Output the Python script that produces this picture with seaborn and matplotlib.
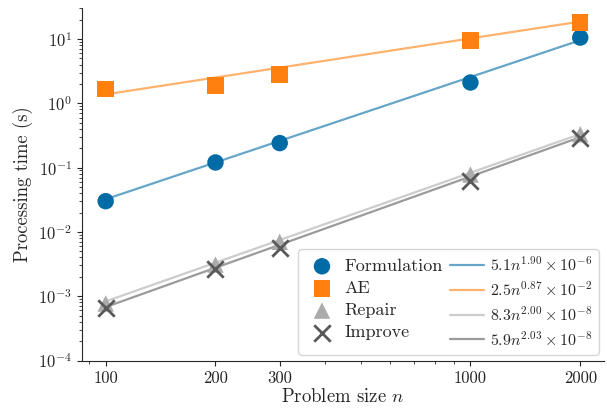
import numpy as np
import pandas as pd
import matplotlib
matplotlib.use("Agg")
import matplotlib.pyplot as plt
import matplotlib.ticker as mticker
import seaborn as sns

sizes = [100, 200, 300, 1000, 2000]
formulation = [0.030, 0.12, 0.24, 2.1, 10.5]
ae = [1.66, 1.9, 2.8, 9.4, 18.0]
repair = [0.00077, 0.0031, 0.0070, 0.078, 0.33]
improve = [0.00066, 0.0026, 0.0056, 0.061, 0.29]

methods = ["Formulation", "AE", "Repair", "Improve"]
# power-law fits from the legend: coef * n^expo * 10^scale
fit_coef = [5.1, 2.5, 8.3, 5.9]
fit_expo = [1.90, 0.87, 2.00, 2.03]
fit_scale = [-6, -2, -8, -8]

colors = ["#006BA4", "#FF800E", "#ABABAB", "#595959"]
markers = ["o", "s", "^", "X"]


def build_frames():
    times = [formulation, ae, repair, improve]
    rows, fits = [], []
    for m, t, c, e, s in zip(methods, times, fit_coef, fit_expo, fit_scale):
        for n, v in zip(sizes, t):
            rows.append({"n": n, "time": v, "method": m})
            fits.append({"n": n, "time": c * n ** e * 10.0 ** s,
                         "fit": rf"${c}n^{{{e:.2f}}}\times10^{{{s}}}$"})
    return pd.DataFrame(rows), pd.DataFrame(fits)


def plot(df, fit_df):
    sns.set_style("ticks")
    plt.rcParams["font.family"] = "serif"
    plt.rcParams["font.serif"] = ["cmr10"]
    plt.rcParams["mathtext.fontset"] = "cm"
    plt.rcParams["axes.formatter.use_mathtext"] = True
    plt.rcParams["axes.unicode_minus"] = False

    fig, ax = plt.subplots(figsize=(6.07, 4.12), dpi=100)
    fit_labels = list(dict.fromkeys(fit_df["fit"]))
    sns.lineplot(data=fit_df, x="n", y="time", hue="fit", hue_order=fit_labels,
                 palette=colors, alpha=0.6, linewidth=1.6, ax=ax)
    pts = []
    for m, c, mk in zip(methods, colors, markers):
        sub = df[df["method"] == m]
        if mk == "X":
            h = ax.scatter(sub["n"], sub["time"], marker="x", s=140, color=c,
                           linewidths=2, zorder=3, label=m)
        else:
            h = ax.scatter(sub["n"], sub["time"], marker=mk, s=140, color=c,
                           edgecolors="none", zorder=3, label=m)
        pts.append(h)

    ax.set_xscale("log")
    ax.set_yscale("log")
    ax.set_ylim(1e-4, 30)
    ax.set_xticks(sizes)
    ax.xaxis.set_major_formatter(mticker.FixedFormatter([str(s) for s in sizes]))
    ax.xaxis.set_minor_formatter(mticker.NullFormatter())
    ax.tick_params(labelsize=12)
    ax.set_xlabel("Problem size $n$", fontsize=13.5, labelpad=2)
    ax.set_ylabel("Processing time (s)", fontsize=13.5, labelpad=4)
    sns.despine(ax=ax)

    lines = ax.get_legend().legend_handles
    ax.get_legend().remove()
    leg = ax.legend(pts + list(lines), methods + fit_labels, ncol=2,
                    loc="lower right", fontsize=13, handletextpad=0.3,
                    columnspacing=0.4, labelspacing=0.36, borderpad=0.35,
                    handlelength=1.9, borderaxespad=0.3)
    for t in leg.get_texts()[4:]:
        t.set_fontsize(11.5)
    fig.subplots_adjust(left=0.135, right=0.995, top=0.98, bottom=0.125)
    fig.savefig("out.png", dpi=100)


if __name__ == "__main__":
    df, fit_df = build_frames()
    plot(df, fit_df)
